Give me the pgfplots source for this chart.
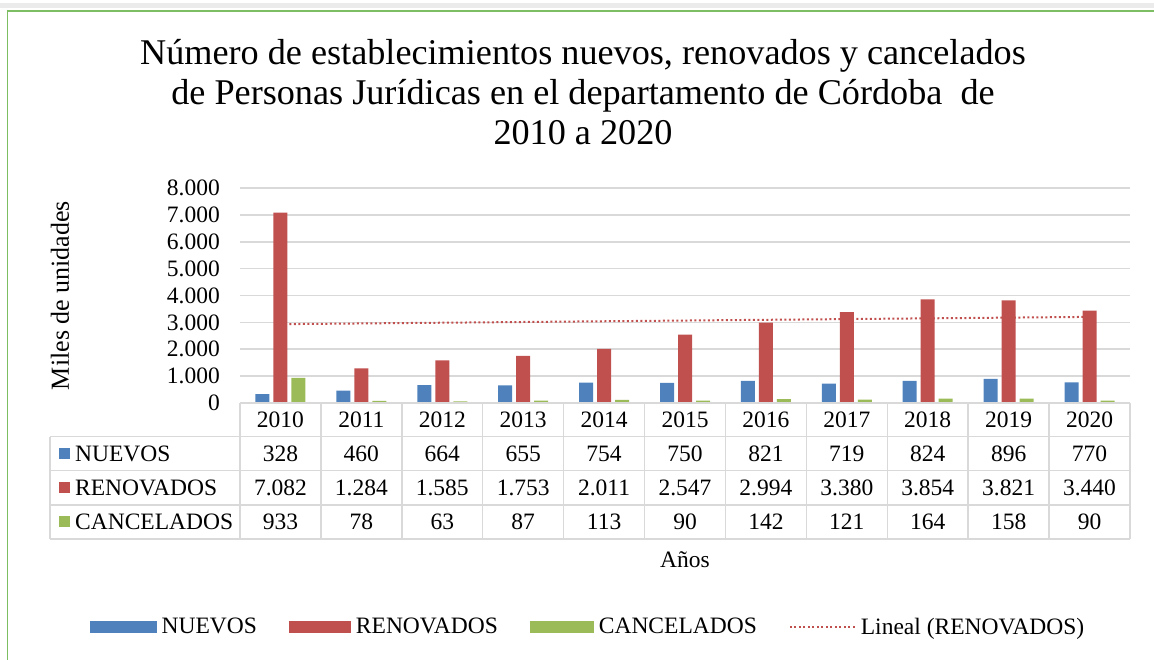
\documentclass[border=0pt]{standalone}
\usepackage{fontspec}
\setmainfont{Liberation Serif}
\usepackage{pgfplots}
\pgfplotsset{compat=1.18}
\definecolor{nblue}{HTML}{4F81BD}
\definecolor{nred}{HTML}{C0504D}
\definecolor{ngreen}{HTML}{9BBB59}
\definecolor{framec}{HTML}{7DBE63}
\definecolor{gridc}{HTML}{D9D9D9}
\newcommand{\tf}{\fontsize{23.5}{28}\selectfont}
\begin{document}
\begin{tikzpicture}[x=1pt,y=1pt]
\useasboundingbox (0,0) rectangle (1154,660);
\fill[black!8] (0,652) rectangle (1154,657);
\draw[framec, line width=1.5pt] (7.5,-5) -- (7.5,649) -- (1165,649);
\begin{axis}[
  at={(240pt,257pt)}, anchor=south west, scale only axis,
  width=890pt, height=215pt,
  xmin=-0.5, xmax=10.5, ymin=0, ymax=8000,
  ytick={0,1000,2000,3000,4000,5000,6000,7000,8000},
  yticklabels={0,1.000,2.000,3.000,4.000,5.000,6.000,7.000,8.000},
  xtick=\empty,
  ymajorgrids, grid style={gridc, line width=1.5pt},
  axis line style={draw=none}, major tick length=0pt,
  yticklabel style={font=\tf, anchor=east, inner sep=0pt, xshift=-20pt},
  ylabel={Miles de unidades},
  every axis y label/.style={at={(axis description cs:-0.2022,0.5)}, rotate=90, anchor=center, font=\fontsize{26}{30}\selectfont},
  title={Número de establecimientos nuevos, renovados y cancelados\\de Personas Jurídicas en el departamento de Córdoba\ \ de\\2010 a 2020},
  title style={at={(axis description cs:0.3854,1.418)}, anchor=center, align=center, font=\fontsize{36.2}{40}\selectfont},
  clip=false,
  legend columns=4,
  legend style={at={(axis description cs:0.391,-1.041)}, anchor=center, draw=none, fill=none, font=\tf,
    /tikz/every odd column/.append style={column sep=3pt},
    /tikz/every even column/.append style={column sep=30pt}},
]
\addplot[ybar, bar width=14pt, bar shift=-18pt, fill=nblue, draw=none,
  legend image code/.code={\fill[nblue] (0pt,-6pt) rectangle (67pt,6pt);}]
  coordinates {(0,328) (1,460) (2,664) (3,655) (4,754) (5,750) (6,821) (7,719) (8,824) (9,896) (10,770)};
\addlegendentry{NUEVOS}
\addplot[ybar, bar width=14pt, bar shift=0pt, fill=nred, draw=none,
  legend image code/.code={\fill[nred] (0pt,-6pt) rectangle (62pt,6pt);}]
  coordinates {(0,7082) (1,1284) (2,1585) (3,1753) (4,2011) (5,2547) (6,2994) (7,3380) (8,3854) (9,3821) (10,3440)};
\addlegendentry{RENOVADOS}
\addplot[ybar, bar width=14pt, bar shift=18pt, fill=ngreen, draw=none,
  legend image code/.code={\fill[ngreen] (0pt,-6pt) rectangle (64pt,6pt);}]
  coordinates {(0,933) (1,78) (2,63) (3,87) (4,113) (5,90) (6,142) (7,121) (8,164) (9,158) (10,90)};
\addlegendentry{CANCELADOS}
\addplot[nred, line width=2pt, dash pattern=on 2pt off 2.5pt,
  legend image code/.code={\draw[nred, line width=2pt, dash pattern=on 2pt off 2.5pt] (0pt,0pt) -- (65pt,0pt);}]
  coordinates {(0,2933) (10,3204)};
\addlegendentry{Lineal (RENOVADOS)}
\end{axis}
% data table
\begin{scope}[gridc, line width=1.5pt]
\draw (240,257) -- (1130,257);
\foreach \yy in {223.3,189.3,155,121} \draw (50,\yy) -- (1130,\yy);
\draw (50,223.3) -- (50,121);
\foreach \k in {0,...,11} \draw ({240+80.909*\k},257) -- ({240+80.909*\k},121);
\end{scope}
\foreach \v [count=\k from 0] in {2010,2011,2012,2013,2014,2015,2016,2017,2018,2019,2020}
  \node[font=\tf] at ({240+80.909*(\k+0.5)},240) {\v};
\foreach \v [count=\k from 0] in {328,460,664,655,754,750,821,719,824,896,770}
  \node[font=\tf] at ({240+80.909*(\k+0.5)},206.3) {\v};
\foreach \v [count=\k from 0] in {7.082,1.284,1.585,1.753,2.011,2.547,2.994,3.380,3.854,3.821,3.440}
  \node[font=\tf] at ({240+80.909*(\k+0.5)},172) {\v};
\foreach \v [count=\k from 0] in {933,78,63,87,113,90,142,121,164,158,90}
  \node[font=\tf] at ({240+80.909*(\k+0.5)},138) {\v};
\fill[nblue] (59,200.8) rectangle (70,211.8);
\fill[nred] (59,166.5) rectangle (70,177.5);
\fill[ngreen] (59,132.5) rectangle (70,143.5);
\node[font=\tf, anchor=west, inner sep=0pt] at (75,206.3) {NUEVOS};
\node[font=\tf, anchor=west, inner sep=0pt] at (75,172) {RENOVADOS};
\node[font=\tf, anchor=west, inner sep=0pt] at (75,138) {CANCELADOS};
\node[font=\tf] at (685,100) {Años};
\end{tikzpicture}
\end{document}
